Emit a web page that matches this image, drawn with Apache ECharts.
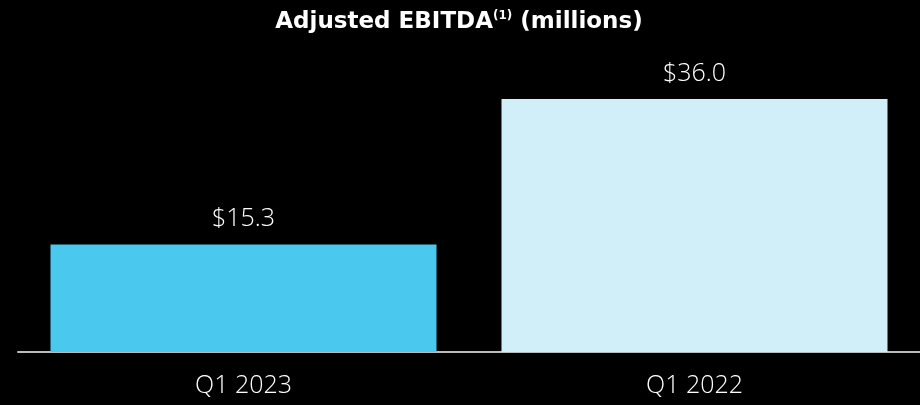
<!DOCTYPE html>
<html><head><meta charset="utf-8">
<script src="https://cdn.jsdelivr.net/npm/echarts@6/dist/echarts.min.js"></script>
<style>html,body{margin:0;padding:0;background:#000;}#c{width:920px;height:405px;}</style>
</head><body><div id="c"></div>
<script>
const categories = ['Q1 2023', 'Q1 2022'];
const values = [15.3, 36.0];
const barColors = ['#4BC8EE', '#D0EFF9'];
const chart = echarts.init(document.getElementById('c'));
chart.setOption({
  backgroundColor: '#000',
  animation: false,
  title: {
    text: '{b|Adjusted EBITDA}{s|(1)}{b| (millions)}',
    left: 454, top: 5, textAlign: 'center',
    textStyle: {
      rich: {
        b: {fontFamily: 'DejaVu Sans', fontWeight: 'bold', fontSize: 23, color: '#fff'},
        s: {fontFamily: 'DejaVu Sans', fontWeight: 'bold', fontSize: 12, color: '#fff', verticalAlign: 'top', padding: [0,0,12,0]}
      }
    }
  },
  grid: {left: 18, right: 0, top: 71, bottom: 53},
  xAxis: {
    type: 'category', data: categories,
    axisLine: {lineStyle: {color: '#bbb', width: 2}},
    axisTick: {show: false},
    axisLabel: {color: '#fff', fontSize: 25, fontFamily: 'Open Sans', fontWeight: 300, margin: 21}
  },
  yAxis: {type: 'value', min: 0, max: 40, show: false, splitLine: {show: false}},
  series: [{
    type: 'bar', barWidth: 386,
    data: values.map((v, i) => ({value: v, itemStyle: {color: barColors[i]}})),
    label: {show: true, position: 'top', distance: 13, color: '#fff', fontSize: 25, fontFamily: 'Open Sans', fontWeight: 300,
      formatter: p => '$' + p.value.toFixed(1)}
  }]
});
</script></body></html>
